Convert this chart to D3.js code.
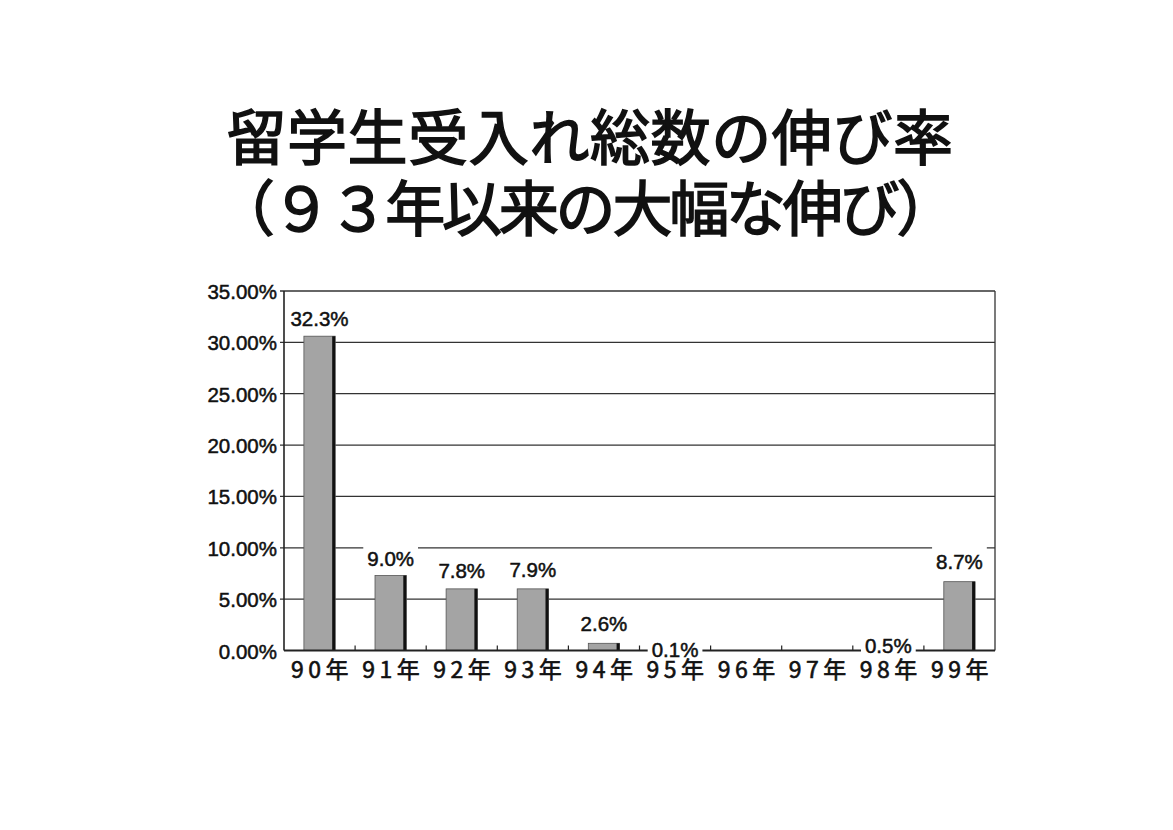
<!DOCTYPE html>
<html><head><meta charset="utf-8">
<script src="https://cdn.jsdelivr.net/npm/d3@7"></script>
<style>html,body{margin:0;padding:0;background:#fff;}svg{display:block;}</style>
</head><body>
<svg id="c" width="1173" height="830"></svg>
<script>
const titleLines = ["留学生受入れ総数の伸び率", "（９３年以来の大幅な伸び）"];
const categories = ["90年","91年","92年","93年","94年","95年","96年","97年","98年","99年"];
// labelled growth rates (%) — null where no label is shown
const rates = [32.3, 9.0, 7.8, 7.9, 2.6, 0.1, null, null, 0.5, 8.7];
// bar heights as drawn in the picture (%)
const barValues = [30.6, 7.3, 6.0, 6.0, 0.7, 0, 0, 0, 0, 6.7];
const yTicks = [0, 5, 10, 15, 20, 25, 30, 35];

const svg = d3.select("#c");
const L = 284, R = 995, T = 291, B = 650.5;

const x = d3.scaleBand().domain(categories).range([L, R]).paddingInner(0.56).paddingOuter(0.28);
const y = d3.scaleLinear().domain([0, 35]).range([B, T]);

// title
svg.selectAll("text.title").data(titleLines).join("text")
  .attr("class","title")
  .attr("x", (d,i) => i === 0 ? 590 : 584)
  .attr("y", (d,i) => i === 0 ? 160 : 231)
  .attr("text-anchor","middle")
  .attr("font-family","'Noto Sans CJK JP'")
  .attr("font-weight","normal")
  .attr("font-size", 60)
  .attr("letter-spacing", (d,i) => i === 0 ? 0.6 : -3.2)
  .attr("fill","#111")
  .attr("stroke","#111")
  .attr("stroke-width",1.6)
  .text(d => d);

// gridlines
svg.append("g").selectAll("line").data(yTicks.filter(v => v > 0)).join("line")
  .attr("x1", L - 4).attr("x2", R)
  .attr("y1", d => y(d)).attr("y2", d => y(d))
  .attr("stroke","#333").attr("stroke-width",1.3);

// frame: left & right
svg.append("line").attr("x1",L).attr("x2",L).attr("y1",T).attr("y2",B)
  .attr("stroke","#222").attr("stroke-width",1.6);
svg.append("line").attr("x1",R).attr("x2",R).attr("y1",T).attr("y2",B)
  .attr("stroke","#333").attr("stroke-width",1.3);

// y tick labels
svg.append("g").selectAll("text").data(yTicks).join("text")
  .attr("x", 277).attr("y", d => y(d) + 8)
  .attr("text-anchor","end")
  .attr("font-family","'Liberation Sans'")
  .attr("font-size", 20.5)
  .attr("fill","#111").attr("stroke","#111").attr("stroke-width",0.5)
  .text(d => d3.format(".2f")(d) + "%");

// bars
const bars = svg.append("g");
categories.forEach((c, i) => {
  const v = barValues[i];
  if (!v) return;
  const x0 = x(c), w = x.bandwidth(), yt = y(v);
  bars.append("rect").attr("x", x0).attr("y", yt).attr("width", w).attr("height", B - yt)
    .attr("fill","#a4a4a4").attr("stroke","#555").attr("stroke-width",0.8);
  bars.append("line").attr("x1", x0 + w - 1.5).attr("x2", x0 + w - 1.5).attr("y1", yt).attr("y2", B)
    .attr("stroke","#111").attr("stroke-width",3);
});

// x axis line (drawn before label boxes so they can hide it, as in the picture)
svg.append("line")
  .attr("x1", L).attr("x2", R).attr("y1", B).attr("y2", B)
  .attr("stroke","#222").attr("stroke-width",1.8);
const step = x.step();
const bounds = d3.range(categories.length + 1).map(k => L + k * step);
svg.append("g").selectAll("line").data(bounds.slice(1, -1)).join("line")
  .attr("x1", d => d).attr("x2", d => d).attr("y1", B - 5).attr("y2", B)
  .attr("stroke","#222").attr("stroke-width",1.2);

// data labels with white boxes
const lab = svg.append("g");
categories.forEach((c, i) => {
  const v = rates[i];
  if (v === null) return;
  const cx = x(c) + x.bandwidth()/2;
  const cy = y(v);
  const t = lab.append("text").attr("x", cx).attr("y", cy + 7.5)
    .attr("text-anchor","middle")
    .attr("font-family","'Liberation Sans'")
    .attr("font-size", 20.5)
    .attr("fill","#111").attr("stroke","#111").attr("stroke-width",0.5)
    .text(d3.format(".1f")(v) + "%");
  const bb = t.node().getBBox();
  lab.insert("rect", () => t.node())
    .attr("x", bb.x - 4).attr("y", cy - 16).attr("width", bb.width + 8).attr("height", 32)
    .attr("fill","#fff");
});

// x labels
svg.append("g").selectAll("text").data(categories).join("text")
  .attr("x", d => x(d) + x.bandwidth()/2 + 2.5)
  .attr("y", 678)
  .attr("text-anchor","middle")
  .attr("font-family","'Noto Sans CJK JP'")
  .attr("font-size", 23)
  .attr("letter-spacing", 4.5)
  .attr("fill","#111").attr("stroke","#111").attr("stroke-width",0.6)
  .text(d => d);
</script>
</body></html>
